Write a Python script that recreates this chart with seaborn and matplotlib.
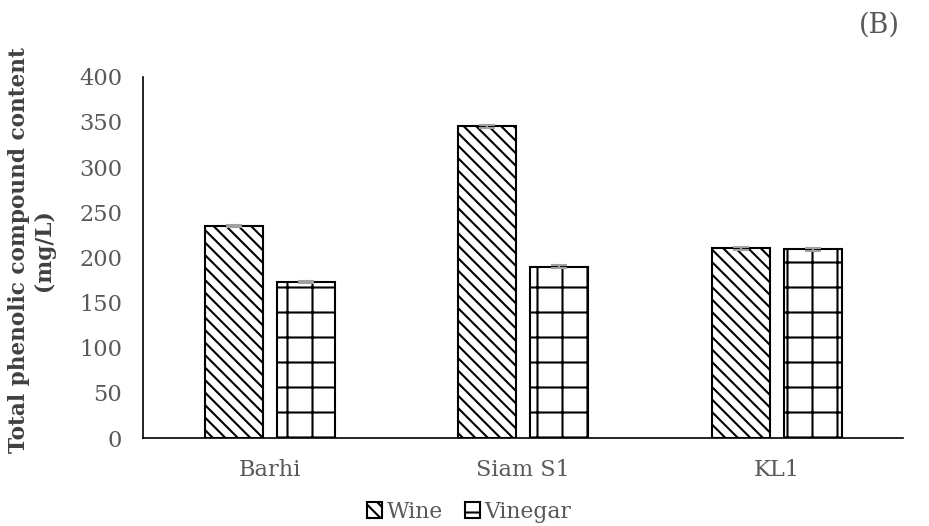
import pandas as pd
import numpy as np
import seaborn as sns
import matplotlib.pyplot as plt
from matplotlib.patches import Patch

cultivars = ["Barhi", "Siam S1", "KL1"]
products = ["Wine", "Vinegar"]
wine_vals = [235, 345, 210]
vinegar_vals = [173, 190, 209]
wine_err = [1.5, 1.5, 1.5]
vinegar_err = [1.5, 1.5, 1.5]

sns.set_style("white")
plt.rcParams['font.family'] = ['DejaVu Serif']
plt.rcParams['hatch.linewidth'] = 1.0

df = pd.DataFrame({
    "Cultivar": cultivars * 2,
    "Product": ["Wine"] * 3 + ["Vinegar"] * 3,
    "Value": wine_vals + vinegar_vals,
})

fig = plt.figure(figsize=(929 / 150, 526 / 150), dpi=150)
ax = fig.add_axes([0.154, 0.167, 0.8185, 0.687])

sns.barplot(data=df, x="Cultivar", y="Value", hue="Product", order=cultivars,
            hue_order=products, palette=["white", "white"], width=0.568, gap=0.19,
            edgecolor="black", linewidth=1.0, errorbar=None, legend=False, ax=ax)

hatches = {"Wine": "\\\\\\\\", "Vinegar": "+"}
errs = {"Wine": wine_err, "Vinegar": vinegar_err}
for cont, prod in zip(ax.containers, products):
    xs, ys = [], []
    for bar in cont:
        bar.set_hatch(hatches[prod])
        xs.append(bar.get_x() + bar.get_width() / 2)
        ys.append(bar.get_height())
    ax.errorbar(xs, ys, yerr=errs[prod], fmt="none", ecolor="#a0a0a0",
                elinewidth=1.0, capsize=4, capthick=1.0)

ax.set_ylim(0, 400)
ax.set_yticks(range(0, 401, 50))
ax.set_xlim(-0.5, 2.5)
ax.set_xlabel("")
ax.set_ylabel("Total phenolic compound content\n(mg/L)", fontsize=10.4,
              fontweight="bold", color="#404040", linespacing=1.15)
ax.yaxis.set_label_coords(-0.116, 0.52)
ax.tick_params(axis="both", labelsize=10.8, colors="#595959", length=0)
ax.tick_params(axis="y", pad=10)
ax.tick_params(axis="x", pad=10)
sns.despine(ax=ax)
ax.spines["left"].set_color("black")
ax.spines["bottom"].set_color("black")
ax.spines["left"].set_linewidth(0.8)
ax.spines["bottom"].set_linewidth(0.8)

handles = [Patch(facecolor="white", edgecolor="black", hatch=hatches[p], label=p)
           for p in products]
fig.legend(handles=handles, loc="center", bbox_to_anchor=(0.505, 0.027), ncol=2,
           frameon=False, fontsize=10.5, handlelength=0.7, handleheight=0.7,
           handletextpad=0.2, columnspacing=1.0, labelcolor="#595959")

fig.text(0.947, 0.952, "(B)", fontsize=13, color="#595959", ha="center", va="center")

fig.savefig("out.png", dpi=150)
